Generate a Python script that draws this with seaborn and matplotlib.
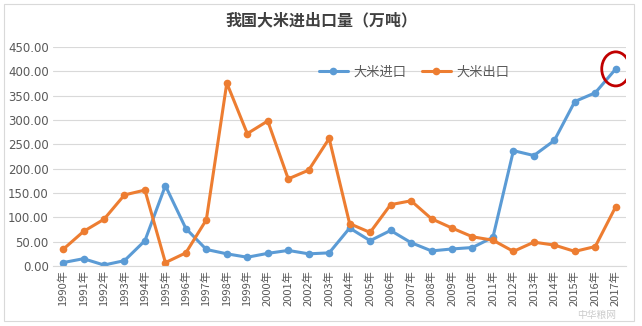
import matplotlib
matplotlib.use("Agg")
import matplotlib.pyplot as plt
from matplotlib.patches import Ellipse, Rectangle
import seaborn as sns
import pandas as pd

years = [str(y) for y in range(1990, 2018)]
year_labels = [f"{y}年" for y in years]
rice_import = [7, 15, 2, 11, 52, 165, 77, 34, 25, 18, 26, 32, 25, 27,
               78, 52, 73, 48, 31, 35, 38, 59, 237, 227, 258, 338, 356, 405]
rice_export = [34, 71, 96, 146, 156, 7, 27, 95, 376, 272, 298, 179, 197, 262,
               87, 69, 126, 134, 97, 78, 60, 53, 30, 49, 43, 30, 40, 122]
series_names = ["大米进口", "大米出口"]
y_ticks = [0, 50, 100, 150, 200, 250, 300, 350, 400, 450]

sns.set_theme(style="white")
plt.rcParams["font.family"] = ["Noto Sans CJK SC", "DejaVu Sans"]

df = pd.DataFrame({
    "idx": list(range(len(years))) * 2,
    "value": rice_import + rice_export,
    "series": [series_names[0]] * len(years) + [series_names[1]] * len(years),
})

fig = plt.figure(figsize=(6.42, 3.26), dpi=100)
ax = fig.add_axes([52.8 / 642, 1 - 266 / 326, (626 - 52.8) / 642, (266 - 47) / 326])

palette = {series_names[0]: "#5B9BD5", series_names[1]: "#ED7D31"}
sns.lineplot(data=df, x="idx", y="value", hue="series", palette=palette,
             marker="o", markersize=5.5, markeredgewidth=0, linewidth=2.2, ax=ax)

ax.set_xlim(-0.5, len(years) - 0.5)
ax.set_ylim(0, 450)
ax.set_yticks(y_ticks)
ax.set_yticklabels([f"{v:.2f}" for v in y_ticks], fontsize=8.5, color="#595959",
                   family=["DejaVu Sans"])
ax.set_xticks(range(len(years)))
ax.set_xticklabels(year_labels, rotation=90, fontsize=8, color="#595959")
ax.tick_params(axis="both", length=0, pad=3)
ax.set_xlabel("")
ax.set_ylabel("")
ax.grid(axis="y", color="#D9D9D9", linewidth=0.8)
ax.set_axisbelow(True)
for side in ["top", "right", "left"]:
    ax.spines[side].set_visible(False)
ax.spines["bottom"].set_color("#D9D9D9")
ax.spines["bottom"].set_linewidth(0.8)

leg = ax.legend(loc="upper center", bbox_to_anchor=(0.63, 0.97), ncol=2, frameon=False,
                fontsize=9.5, handlelength=2.2, columnspacing=1.2, handletextpad=0.4)
for t in leg.get_texts():
    t.set_color("#595959")

# highlight the latest import figure
ax.add_patch(Ellipse((len(years) - 1, rice_import[-1]), width=1.37, height=70,
                     fill=False, edgecolor="#C00000", linewidth=2.0, zorder=5))

fig.text(0.5, 1 - 20 / 326, "我国大米进出口量（万吨）", ha="center", va="center",
         fontsize=11.5, color="#404040", fontweight="bold")
fig.text(0.93, 1 - 315 / 326, "中华粮网", ha="center", va="center",
         fontsize=7, color="#BFBFBF", alpha=0.8)

fig.add_artist(Rectangle((4 / 642, 1 - 321 / 326), 630 / 642, 317 / 326,
                         transform=fig.transFigure, fill=False,
                         edgecolor="#D9D9D9", linewidth=0.8))

fig.savefig("out.png", dpi=100)
